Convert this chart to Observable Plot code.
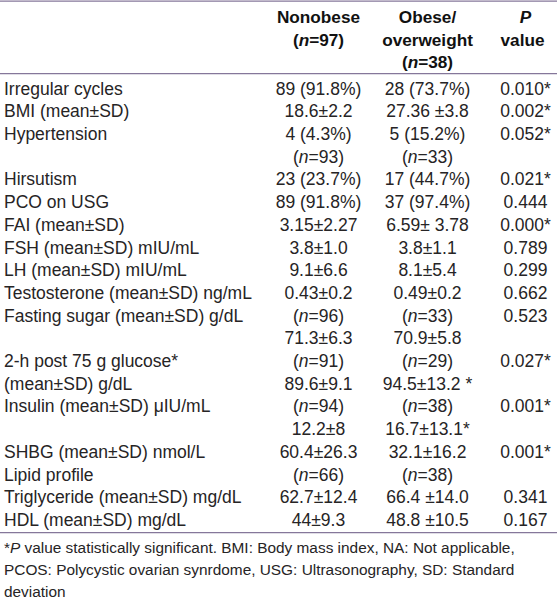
<!DOCTYPE html>
<html>
<head>
<meta charset="utf-8">
<script src="https://cdn.jsdelivr.net/npm/d3@7"></script>
<script src="https://cdn.jsdelivr.net/npm/@observablehq/plot@0.6"></script>
<style>
  html, body { margin: 0; padding: 0; background: #fff; }
  #chart svg { display: block; }
</style>
</head>
<body>
<div id="chart"></div>
<script>
// ---- data ----
const headerNonobese = ["Nonobese", "(n=97)"];
const headerObese = ["Obese/", "overweight", "(n=38)"];
const headerP = ["P", "value"];

const labels = [
  "Irregular cycles", "BMI (mean±SD)", "Hypertension", "", "Hirsutism",
  "PCO on USG", "FAI (mean±SD)", "FSH (mean±SD) mIU/mL", "LH (mean±SD) mIU/mL",
  "Testosterone (mean±SD) ng/mL", "Fasting sugar (mean±SD) g/dL", "",
  "2-h post 75 g glucose*", "(mean±SD) g/dL", "Insulin (mean±SD) μIU/mL", "",
  "SHBG (mean±SD) nmol/L", "Lipid profile", "Triglyceride (mean±SD) mg/dL",
  "HDL (mean±SD) mg/dL"
];
const nonobese = [
  "89 (91.8%)", "18.6±2.2", "4 (4.3%)", "(n=93)", "23 (23.7%)",
  "89 (91.8%)", "3.15±2.27", "3.8±1.0", "9.1±6.6",
  "0.43±0.2", "(n=96)", "71.3±6.3",
  "(n=91)", "89.6±9.1", "(n=94)", "12.2±8",
  "60.4±26.3", "(n=66)", "62.7±12.4",
  "44±9.3"
];
const obese = [
  "28 (73.7%)", "27.36 ±3.8", "5 (15.2%)", "(n=33)", "17 (44.7%)",
  "37 (97.4%)", "6.59± 3.78", "3.8±1.1", "8.1±5.4",
  "0.49±0.2", "(n=33)", "70.9±5.8",
  "(n=29)", "94.5±13.2 *", "(n=38)", "16.7±13.1*",
  "32.1±16.2", "(n=38)", "66.4 ±14.0",
  "48.8 ±10.5"
];
const pvalues = [
  "0.010*", "0.002*", "0.052*", "", "0.021*",
  "0.444", "0.000*", "0.789", "0.299",
  "0.662", "0.523", "",
  "0.027*", "", "0.001*", "",
  "0.001*", "", "0.341",
  "0.167"
];
const footnote = [
  "*P value statistically significant. BMI: Body mass index, NA: Not applicable,",
  "PCOS: Polycystic ovarian synrdome, USG: Ultrasonography, SD: Standard",
  "deviation"
];

// ---- layout ----
const colX = [3.5, 318, 427, 525];          // column anchors (px)
const bodyStart = 3.15;                      // in row units
const bodyRows = labels.map((label, i) => ({label, non: nonobese[i], obese: obese[i], p: pvalues[i]}));
const rowY = (d, i) => bodyStart + i;
const footY = (d, i) => 23.39 + 0.95 * i;
const rules = [-0.72, 2.47, 22.69];

const ink = "#262425";
const bodyFont = 17.5;
const headFont = 17.2;
const footFont = 15.4;

const chart = Plot.plot({
  width: 557,
  height: 601,
  margin: 0,
  style: {fontFamily: "'Liberation Sans', Arial, sans-serif", background: "#fff", color: ink},
  x: {type: "linear", domain: [0, 557], range: [0, 557], axis: null},
  y: {domain: [0, 26], range: [17, 17 + 26 * 22.7], axis: null},
  marks: [
    Plot.ruleY(rules, {y: d => d, stroke: "#85779a", strokeWidth: 1.2}),
    // header
    Plot.text(headerNonobese, {x: () => colX[1], y: (d, i) => i, text: d => d, fontWeight: "bold", fontSize: headFont, fill: "#111"}),
    Plot.text(headerObese, {x: () => colX[2], y: (d, i) => i, text: d => d, fontWeight: "bold", fontSize: headFont, fill: "#111"}),
    Plot.text(headerP.slice(0, 1), {x: () => colX[3], y: (d, i) => i, text: d => d, fontWeight: "bold", fontStyle: "italic", fontSize: headFont, fill: "#111"}),
    Plot.text(headerP.slice(1), {x: () => colX[3] - 3, y: (d, i) => i + 1, text: d => d, fontWeight: "bold", fontSize: headFont, fill: "#111"}),
    // body
    Plot.text(bodyRows, {x: () => colX[0], y: rowY, text: "label", textAnchor: "start", fontSize: bodyFont, fill: ink}),
    Plot.text(bodyRows, {x: () => colX[1], y: rowY, text: "non", fontSize: bodyFont, fill: ink}),
    Plot.text(bodyRows, {x: () => colX[2], y: rowY, text: "obese", fontSize: bodyFont, fill: ink}),
    Plot.text(bodyRows, {x: () => colX[3], y: rowY, text: "p", fontSize: bodyFont, fill: ink}),
    // footnote
    Plot.text(footnote, {x: () => colX[0], y: footY, text: d => d, textAnchor: "start", fontSize: footFont, fill: ink})
  ]
});

// italicize "n" in (n=..) and the "P" in the footnote
const NS = "http://www.w3.org/2000/svg";
chart.querySelectorAll("text").forEach(t => {
  const s = t.textContent;
  let m;
  if ((m = s.match(/^\((n)(=.*)$/))) {
    t.textContent = "(";
    const ts = document.createElementNS(NS, "tspan");
    ts.setAttribute("font-style", "italic");
    ts.textContent = "n";
    t.appendChild(ts);
    t.appendChild(document.createTextNode(m[2]));
  } else if (s.startsWith("*P ")) {
    t.textContent = "*";
    const ts = document.createElementNS(NS, "tspan");
    ts.setAttribute("font-style", "italic");
    ts.textContent = "P";
    t.appendChild(ts);
    t.appendChild(document.createTextNode(s.slice(2)));
  }
});

document.getElementById("chart").appendChild(chart);
</script>
</body>
</html>
